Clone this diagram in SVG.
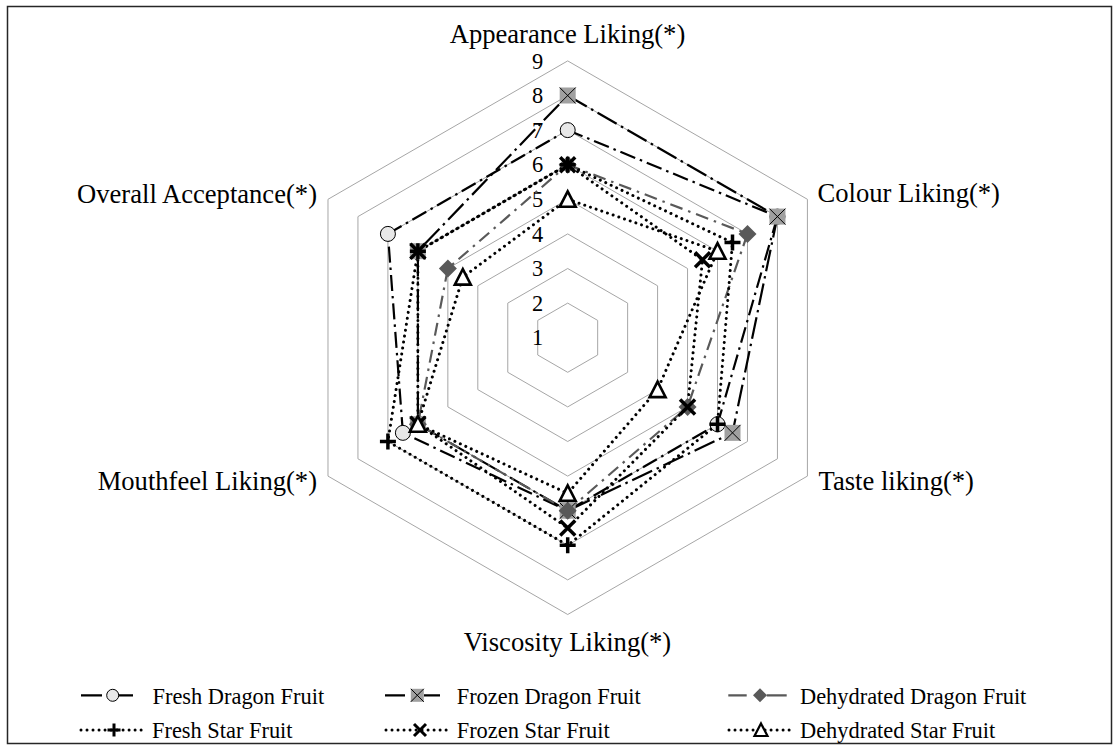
<svg xmlns="http://www.w3.org/2000/svg" xmlns:xlink="http://www.w3.org/1999/xlink" width="1119" height="751" viewBox="0 0 1119 751">
<style>
  .grid { fill: none; stroke: #a6a6a6; stroke-width: 1; }
  .axis { font-family: "Liberation Serif", "Times New Roman", serif; font-size: 26.6px; fill: #000; }
  .tick { font-family: "Liberation Serif", "Times New Roman", serif; font-size: 22.4px; fill: #000; text-anchor: middle; }
  .leg { font-family: "Liberation Serif", "Times New Roman", serif; font-size: 22.4px; fill: #000; }
  .fd { fill: none; stroke: #000; stroke-width: 2.2; stroke-dasharray: 16 5 2.5 5; }
  .zd { fill: none; stroke: #000; stroke-width: 2.2; stroke-dasharray: 22 5 2.5 5; }
  .dd { fill: none; stroke: #595959; stroke-width: 2.2; stroke-dasharray: 13 6 2.5 6; }
  .st { fill: none; stroke: #000; stroke-width: 3; stroke-dasharray: 0.01 6; stroke-linecap: round; }
  .lsolid { fill: none; stroke: #000; stroke-width: 2.2; }
  .lgray { fill: none; stroke: #595959; stroke-width: 2.2; }
</style>
<defs>
  <g id="m-circle"><circle r="7.5" fill="#e8e8e8" stroke="#000" stroke-width="1"/></g>
  <g id="m-square"><rect x="-8" y="-8" width="16" height="16" fill="#a0a0a0"/><path d="M-8 -8 L8 8 M8 -8 L-8 8" stroke="#000" stroke-width="1" fill="none"/></g>
  <g id="m-diamond"><polygon points="0,-9 9,0 0,9 -9,0" fill="#595959"/></g>
  <g id="m-plus"><path d="M-8 0 H8 M0 -8 V8" stroke="#000" stroke-width="3.5" fill="none"/></g>
  <g id="m-x"><path d="M-7.5 -7.5 L7.5 7.5 M7.5 -7.5 L-7.5 7.5" stroke="#000" stroke-width="3.5" fill="none"/></g>
  <g id="m-tri"><polygon points="0,-8 8,7.5 -8,7.5" fill="#fff" stroke="#000" stroke-width="2.6" stroke-linejoin="miter"/></g>
  <g id="l-circle"><circle r="6" fill="#e8e8e8" stroke="#000" stroke-width="1"/></g>
  <g id="l-square"><rect x="-6.5" y="-6.5" width="13" height="13" fill="#a0a0a0"/><path d="M-6.5 -6.5 L6.5 6.5 M6.5 -6.5 L-6.5 6.5" stroke="#000" stroke-width="1" fill="none"/></g>
  <g id="l-diamond"><polygon points="0,-7 7,0 0,7 -7,0" fill="#595959"/></g>
  <g id="l-plus"><path d="M-6.5 0 H6.5 M0 -6.5 V6.5" stroke="#000" stroke-width="3" fill="none"/></g>
  <g id="l-x"><path d="M-6 -6 L6 6 M6 -6 L-6 6" stroke="#000" stroke-width="3" fill="none"/></g>
  <g id="l-tri"><polygon points="0,-6.5 6.5,6 -6.5,6" fill="#fff" stroke="#000" stroke-width="2.2"/></g>
</defs>

<rect x="0" y="0" width="1119" height="751" fill="#fff"/>
<rect id="frame" x="7.5" y="6.5" width="1104" height="737" fill="none" stroke="#262626" stroke-width="1.5"/>

<g id="grid">
  <polygon class="grid" points="567.7,303.1 597.66,320.4 597.66,355 567.7,372.3 537.74,355 537.74,320.4"/>
  <polygon class="grid" points="567.7,268.5 627.63,303.1 627.63,372.3 567.7,406.9 507.77,372.3 507.77,303.1"/>
  <polygon class="grid" points="567.7,233.9 657.59,285.8 657.59,389.6 567.7,441.5 477.81,389.6 477.81,285.8"/>
  <polygon class="grid" points="567.7,199.3 687.55,268.5 687.55,406.9 567.7,476.1 447.85,406.9 447.85,268.5"/>
  <polygon class="grid" points="567.7,164.7 717.52,251.2 717.52,424.2 567.7,510.7 417.88,424.2 417.88,251.2"/>
  <polygon class="grid" points="567.7,130.1 747.48,233.9 747.48,441.5 567.7,545.3 387.92,441.5 387.92,233.9"/>
  <polygon class="grid" points="567.7,95.5 777.45,216.6 777.45,458.8 567.7,579.9 357.95,458.8 357.95,216.6"/>
  <polygon class="grid" points="567.7,60.9 807.41,199.3 807.41,476.1 567.7,614.5 327.99,476.1 327.99,199.3"/>
</g>

<g id="tick-labels">
  <text class="tick" x="537.5" y="345.3">1</text>
  <text class="tick" x="537.5" y="310.7">2</text>
  <text class="tick" x="537.5" y="276.1">3</text>
  <text class="tick" x="537.5" y="241.5">4</text>
  <text class="tick" x="537.5" y="206.9">5</text>
  <text class="tick" x="537.5" y="172.3">6</text>
  <text class="tick" x="537.5" y="137.7">7</text>
  <text class="tick" x="537.5" y="103.1">8</text>
  <text class="tick" x="537.5" y="68.5">9</text>
</g>

<g id="axis-labels">
  <text class="axis" x="567.5" y="42.7" text-anchor="middle">Appearance Liking(*)</text>
  <text class="axis" x="817.5" y="202">Colour Liking(*)</text>
  <text class="axis" x="818.5" y="490">Taste liking(*)</text>
  <text class="axis" x="567.5" y="651" text-anchor="middle">Viscosity Liking(*)</text>
  <text class="axis" x="317" y="490" text-anchor="end">Mouthfeel Liking(*)</text>
  <text class="axis" x="317" y="203" text-anchor="end">Overall Acceptance(*)</text>
</g>

<g id="connectors">
  <polygon id="line-fresh-dragon" class="fd" points="567.7,130.1 777.45,216.6 717.52,424.2 567.7,510.7 402.9,432.85 387.92,233.9"/>
  <polygon id="line-frozen-dragon" class="zd" points="567.7,95.5 777.45,216.6 732.5,432.85 567.7,510.7 417.88,424.2 417.88,251.2"/>
  <polygon id="line-dehydrated-dragon" class="dd" points="567.7,164.7 747.48,233.9 687.55,406.9 567.7,510.7 417.88,424.2 447.85,268.5"/>
  <polygon id="line-fresh-star" class="st" points="567.7,164.7 732.5,242.55 717.52,424.2 567.7,545.3 387.92,441.5 417.88,251.2"/>
  <polygon id="line-frozen-star" class="st" points="567.7,164.7 702.54,259.85 687.55,406.9 567.7,528 417.88,424.2 417.88,251.2"/>
  <polygon id="line-dehydrated-star" class="st" points="567.7,199.3 717.52,251.2 657.59,389.6 567.7,493.4 417.88,424.2 462.83,277.15"/>
</g>

<g id="markers-fresh-dragon">
  <use href="#m-circle" x="567.7" y="130.1"/>
  <use href="#m-circle" x="777.45" y="216.6"/>
  <use href="#m-circle" x="717.52" y="424.2"/>
  <use href="#m-circle" x="567.7" y="510.7"/>
  <use href="#m-circle" x="402.9" y="432.85"/>
  <use href="#m-circle" x="387.92" y="233.9"/>
</g>
<g id="markers-frozen-dragon">
  <use href="#m-square" x="567.7" y="95.5"/>
  <use href="#m-square" x="777.45" y="216.6"/>
  <use href="#m-square" x="732.5" y="432.85"/>
  <use href="#m-square" x="567.7" y="510.7"/>
  <use href="#m-square" x="417.88" y="424.2"/>
  <use href="#m-square" x="417.88" y="251.2"/>
</g>
<g id="markers-dehydrated-dragon">
  <use href="#m-diamond" x="567.7" y="164.7"/>
  <use href="#m-diamond" x="747.48" y="233.9"/>
  <use href="#m-diamond" x="687.55" y="406.9"/>
  <use href="#m-diamond" x="567.7" y="510.7"/>
  <use href="#m-diamond" x="417.88" y="424.2"/>
  <use href="#m-diamond" x="447.85" y="268.5"/>
</g>
<g id="markers-fresh-star">
  <use href="#m-plus" x="567.7" y="164.7"/>
  <use href="#m-plus" x="732.5" y="242.55"/>
  <use href="#m-plus" x="717.52" y="424.2"/>
  <use href="#m-plus" x="567.7" y="545.3"/>
  <use href="#m-plus" x="387.92" y="441.5"/>
  <use href="#m-plus" x="417.88" y="251.2"/>
</g>
<g id="markers-frozen-star">
  <use href="#m-x" x="567.7" y="164.7"/>
  <use href="#m-x" x="702.54" y="259.85"/>
  <use href="#m-x" x="687.55" y="406.9"/>
  <use href="#m-x" x="567.7" y="528"/>
  <use href="#m-x" x="417.88" y="424.2"/>
  <use href="#m-x" x="417.88" y="251.2"/>
</g>
<g id="markers-dehydrated-star">
  <use href="#m-tri" x="567.7" y="199.3"/>
  <use href="#m-tri" x="717.52" y="251.2"/>
  <use href="#m-tri" x="657.59" y="389.6"/>
  <use href="#m-tri" x="567.7" y="493.4"/>
  <use href="#m-tri" x="417.88" y="424.2"/>
  <use href="#m-tri" x="462.83" y="277.15"/>
</g>

<g id="legend">
  <g id="legend-fresh-dragon">
    <path class="lsolid" d="M81 695.3 H102 M118 695.3 H133"/>
    <use href="#l-circle" x="112.7" y="695.3"/>
    <text class="leg" x="152.5" y="704.3">Fresh Dragon Fruit</text>
  </g>
  <g id="legend-frozen-dragon">
    <path class="lsolid" d="M385 695.3 H405 M424 695.3 H440"/>
    <use href="#l-square" x="417.3" y="695.3"/>
    <text class="leg" x="456.7" y="704.3">Frozen Dragon Fruit</text>
  </g>
  <g id="legend-dehydrated-dragon">
    <path class="lgray" d="M728.3 695.3 H746.7 M766.7 695.3 H786.7"/>
    <use href="#l-diamond" x="760" y="695.3"/>
    <text class="leg" x="800" y="704.3">Dehydrated Dragon Fruit</text>
  </g>
  <g id="legend-fresh-star">
    <path class="st" d="M81 730 H147"/>
    <use href="#l-plus" x="114" y="730"/>
    <text class="leg" x="152" y="738.3">Fresh Star Fruit</text>
  </g>
  <g id="legend-frozen-star">
    <path class="st" d="M386 730 H452"/>
    <use href="#l-x" x="420" y="730"/>
    <text class="leg" x="456.7" y="738.3">Frozen Star Fruit</text>
  </g>
  <g id="legend-dehydrated-star">
    <path class="st" d="M729 730 H795"/>
    <use href="#l-tri" x="761" y="730"/>
    <text class="leg" x="800" y="738.3">Dehydrated Star Fruit</text>
  </g>
</g>
</svg>
